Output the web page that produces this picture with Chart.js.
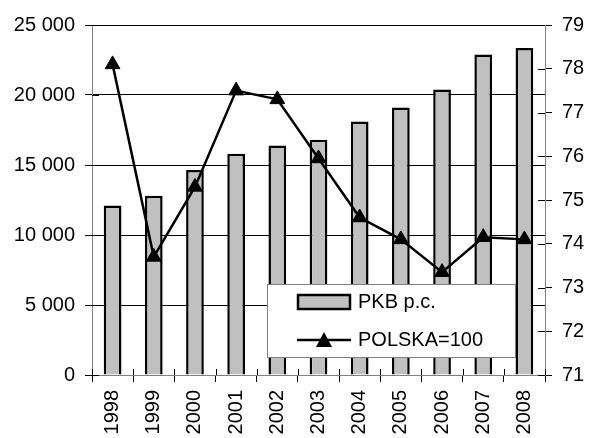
<!DOCTYPE html>
<html><head><meta charset="utf-8">
<script src="https://cdn.jsdelivr.net/npm/chart.js@4/dist/chart.umd.min.js"></script>
<style>html,body{margin:0;padding:0;background:#fff}#wrap{width:597px;height:438px}</style>
</head><body><div id="wrap"><canvas id="c" width="597" height="438"></canvas></div>
<script>
const years = ['1998','1999','2000','2001','2002','2003','2004','2005','2006','2007','2008'];
const pkbPc = [12100, 12800, 14650, 15800, 16400, 16800, 18100, 19100, 20400, 22900, 23350];
const polska100 = [78.1, 73.7, 75.3, 77.5, 77.3, 75.95, 74.6, 74.1, 73.35, 74.15, 74.1];
const leftTicks = [0, 5000, 10000, 15000, 20000, 25000];
const rightTicks = [71, 72, 73, 74, 75, 76, 77, 78, 79];
const seriesNames = ['PKB p.c.', 'POLSKA=100'];

const FONT = {family: 'Arial, "Liberation Sans", sans-serif', size: 20};
const fmt = v => String(v).replace(/\B(?=(\d{3})+(?!\d))/g, ' ');

const crossTicks = {
  id: 'crossTicks',
  afterDatasetsDraw(chart) {
    const ctx = chart.ctx;
    const y1 = chart.scales.y1, y = chart.scales.y, x = chart.scales.x;
    ctx.save();
    ctx.strokeStyle = '#000';
    ctx.lineWidth = 1;
    y1.ticks.forEach(t => {
      const py = Math.round(y1.getPixelForValue(t.value)) + 0.5;
      ctx.beginPath();
      ctx.moveTo(y1.left - 7, py);
      ctx.lineTo(y1.left, py);
      ctx.stroke();
    });
    y.ticks.forEach(t => {
      const py = Math.round(y.getPixelForValue(t.value)) + 0.5;
      ctx.beginPath();
      ctx.moveTo(y.right, py);
      ctx.lineTo(y.right + 7, py);
      ctx.stroke();
    });
    const n = x.ticks.length;
    const half = (x.getPixelForValue(1) - x.getPixelForValue(0)) / 2;
    for (let i = 0; i <= n; i++) {
      const px = Math.round(x.getPixelForValue(i) - half) + 0.5;
      ctx.beginPath();
      ctx.moveTo(px, x.top - 6);
      ctx.lineTo(px, x.top);
      ctx.stroke();
    }
    ctx.restore();
  }
};

const boxLegend = {
  id: 'boxLegend',
  afterDraw(chart) {
    const ctx = chart.ctx;
    const x0 = 267, y0 = 284, w = 248, h = 73;
    ctx.save();
    ctx.fillStyle = '#fff';
    ctx.fillRect(x0, y0, w, h);
    ctx.strokeStyle = '#808080';
    ctx.lineWidth = 1;
    ctx.strokeRect(x0 + 0.5, y0 + 0.5, w, h);
    ctx.fillStyle = '#C0C0C0';
    ctx.fillRect(298, 295, 52, 14);
    ctx.strokeStyle = '#000';
    ctx.lineWidth = 2.5;
    ctx.strokeRect(298, 295, 52, 14);
    ctx.beginPath();
    ctx.moveTo(297, 340);
    ctx.lineTo(351, 340);
    ctx.stroke();
    ctx.fillStyle = '#000';
    ctx.beginPath();
    ctx.moveTo(324, 332);
    ctx.lineTo(332, 347);
    ctx.lineTo(316, 347);
    ctx.closePath();
    ctx.fill();
    ctx.font = '20px Arial, "Liberation Sans", sans-serif';
    ctx.textBaseline = 'middle';
    ctx.fillText(seriesNames[0], 358, 302);
    ctx.fillText(seriesNames[1], 358, 340);
    ctx.restore();
  }
};

new Chart(document.getElementById('c'), {
  data: {
    labels: years,
    datasets: [
      {type: 'line', label: seriesNames[1], data: polska100, yAxisID: 'y1', order: 0,
       borderColor: '#000', borderWidth: 2.5, tension: 0, pointStyle: 'triangle',
       pointRadius: 8.5, pointBackgroundColor: '#000', pointBorderColor: '#000', pointBorderWidth: 1},
      {type: 'bar', label: seriesNames[0], data: pkbPc, yAxisID: 'y', order: 1,
       backgroundColor: '#C0C0C0', borderColor: '#000', borderWidth: 2.5,
       categoryPercentage: 1, barPercentage: 0.43}
    ]
  },
  options: {
    responsive: false, animation: false,
    layout: {padding: {top: 25, left: 0, right: 0, bottom: 0}},
    plugins: {legend: {display: false}, tooltip: {enabled: false}},
    scales: {
      x: {
        offset: true,
        grid: {offset: true, drawOnChartArea: false, tickLength: 7, color: '#000'},
        border: {color: '#808080', width: 1},
        ticks: {font: FONT, color: '#000', minRotation: 90, maxRotation: 90, padding: 8},
        afterFit: s => { s.height = 63; }
      },
      y: {
        position: 'left', min: 0, max: 25000,
        afterBuildTicks: s => { s.ticks = leftTicks.map(v => ({value: v})); },
        grid: {color: '#000', tickLength: 7, tickColor: '#000'},
        border: {color: '#808080', width: 1},
        ticks: {font: FONT, color: '#000', padding: 10, callback: v => fmt(v)},
        afterFit: s => { s.width = 92; }
      },
      y1: {
        position: 'right', min: 71, max: 79,
        afterBuildTicks: s => { s.ticks = rightTicks.map(v => ({value: v})); },
        grid: {drawOnChartArea: false, tickLength: 7, tickColor: '#000'},
        border: {color: '#808080', width: 1},
        ticks: {font: FONT, color: '#000', padding: 10},
        afterFit: s => { s.width = 52; }
      }
    }
  },
  plugins: [crossTicks, boxLegend]
});
</script></body></html>
